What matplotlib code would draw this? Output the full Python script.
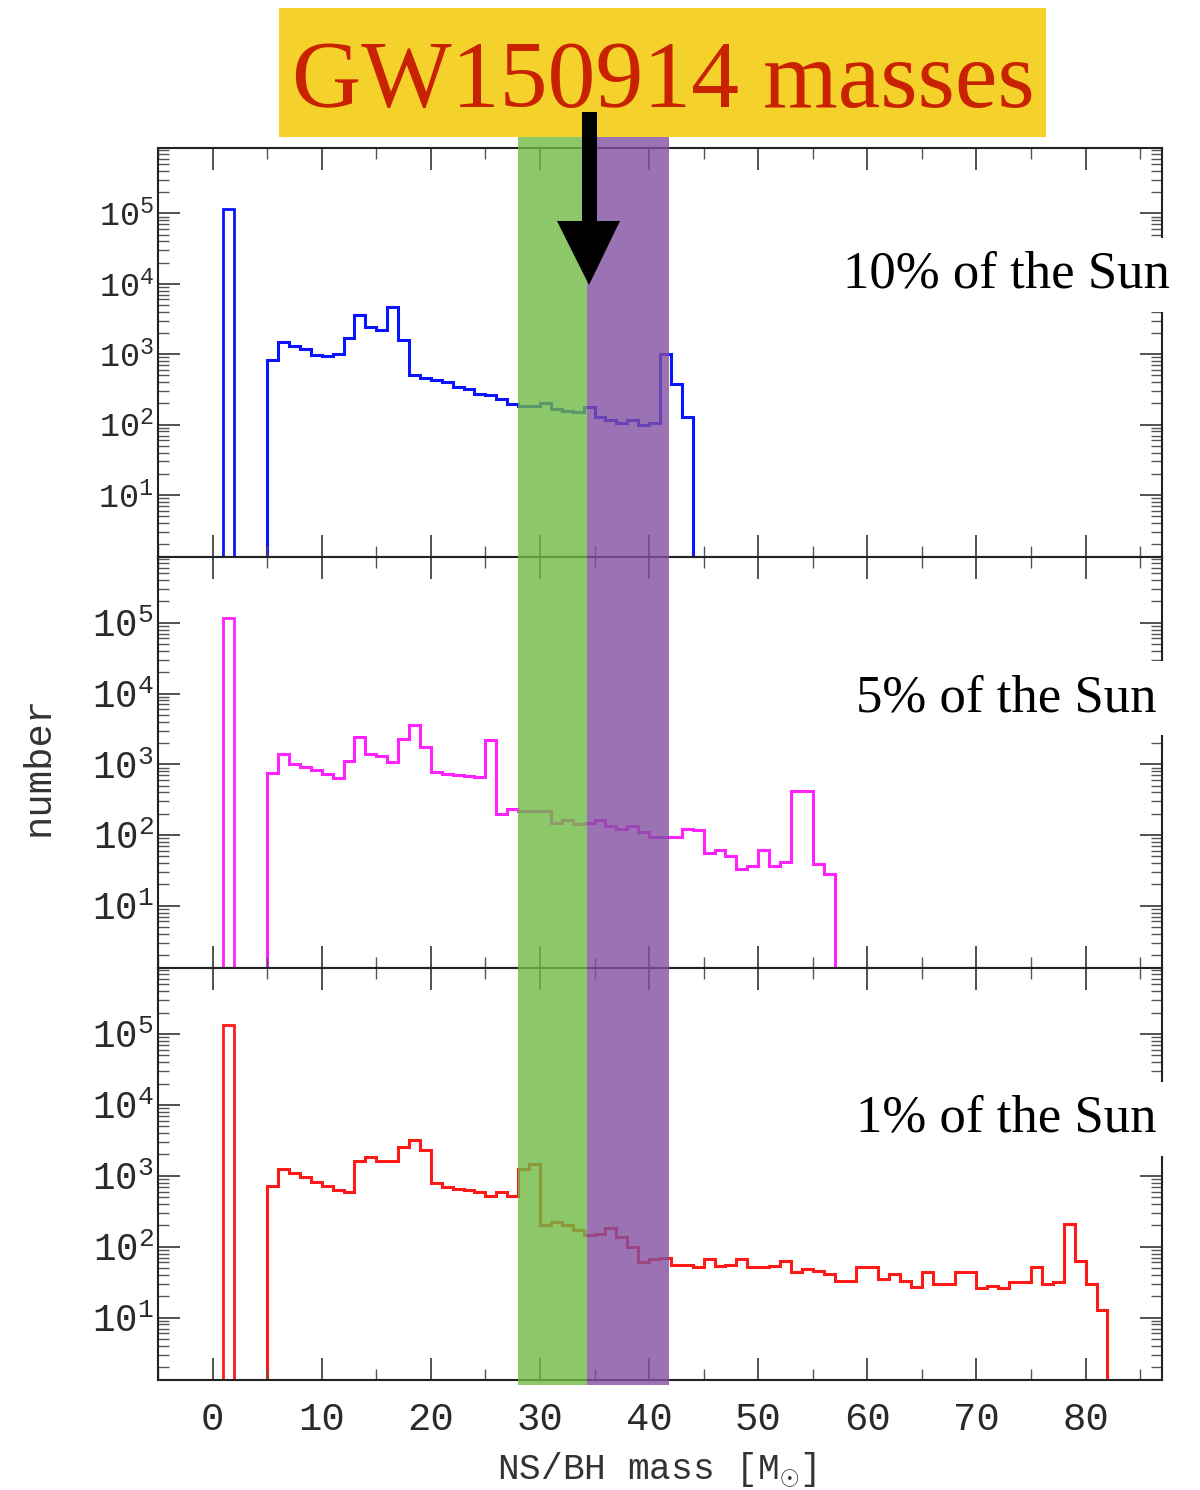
import matplotlib
matplotlib.use("Agg")
import matplotlib.pyplot as plt
import matplotlib.ticker as mticker
from matplotlib.patches import Rectangle, Polygon
from matplotlib.transforms import blended_transform_factory

plt.rcParams['mathtext.fontset'] = 'custom'
plt.rcParams['mathtext.rm'] = 'Liberation Mono'
plt.rcParams['mathtext.it'] = 'Liberation Mono:italic'

# histogram data: 1 Msun bins, first (NS) bin 1-2, BH part from 5 Msun
ns_edges = [1, 2]
ns_counts = [1.15e5, 1.15e5, 1.35e5]

bh_start = 5
bh_10 = [830, 1480, 1290, 1180, 980, 930, 1020, 1700, 3630, 2400, 2240, 4680, 1580,
         500, 460, 430, 400, 340, 325, 275, 265, 230, 195, 186, 182, 204, 166, 158,
         151, 178, 129, 115, 105, 115, 98, 105, 1000, 380, 130]
bh_5 = [760, 1380, 1000, 910, 830, 720, 645, 1100, 2400, 1410, 1320, 1070, 2290, 3630,
        1740, 780, 740, 710, 690, 660, 2190, 195, 230, 220, 220, 220, 150, 162, 145,
        150, 162, 132, 120, 132, 110, 95, 95, 93, 123, 117, 55, 62, 50, 33, 36, 62,
        37, 42, 417, 417, 39, 28]
bh_1 = [720, 1260, 1100, 950, 830, 720, 620, 600,
        1620, 1860, 1620, 1620, 2570, 3160, 2290,
        780, 690, 660, 620, 600, 525, 600, 525, 1260, 1480,
        200, 220, 200, 170, 145, 150, 182, 135, 98, 60, 68, 69,
        56, 56, 51, 68, 54, 56, 68, 51, 51, 54,
        63, 44, 48, 46, 41, 33, 33, 51, 51, 35,
        41, 33, 27, 44, 30, 30, 44, 44, 26, 28,
        26, 32, 32, 51, 30, 32, 209, 63, 30, 13]

series = [bh_10, bh_5, bh_1]
colors = ['#0a14ff', '#ff22ff', '#ff1a1a']
labels = ['10% of the Sun', '5% of the Sun', '1% of the Sun']

# GW150914 mass bands (Msun)
green_band = (28.0, 34.35)
purple_band = (34.35, 41.85)

W, H = 1200, 1490
fig = plt.figure(figsize=(12, 14.9), dpi=100)

def fx(px):
    return px / W

def fy(py):
    return 1 - py / H

panels = [(148, 557), (557, 968), (968, 1380)]
left, right = 158, 1162
axes = []
for i, (top, bot) in enumerate(panels):
    ax = fig.add_axes([fx(left), fy(bot), fx(right - left), (bot - top) / H])
    axes.append(ax)

for i, ax in enumerate(axes):
    vals = series[i]
    edges = list(range(bh_start, bh_start + len(vals) + 1))
    ax.stairs([ns_counts[i]], ns_edges, baseline=1e-2, color=colors[i], lw=2.0)
    ax.stairs(vals, edges, baseline=1e-2, color=colors[i], lw=2.2)
    ax.set_yscale('log')
    ax.set_ylim(10 ** 0.12, 10 ** 5.93)
    ax.set_xlim(-5, 87)
    ax.xaxis.set_major_locator(mticker.MultipleLocator(10))
    ax.xaxis.set_minor_locator(mticker.MultipleLocator(5))
    ax.yaxis.set_minor_locator(mticker.LogLocator(base=10, subs=range(2, 10), numticks=20))
    ax.yaxis.set_minor_formatter(mticker.NullFormatter())
    ax.set_yticks([10, 100, 1e3, 1e4, 1e5])
    ax.tick_params(which='major', direction='in', top=True, right=True,
                   length=16, width=1.2, color='#333333')
    ax.tick_params(which='minor', direction='in', top=True, right=True,
                   length=8, width=1.0, color='#555555')
    ax.tick_params(axis='y', which='major', labelsize=24 if i == 0 else 27,
                   pad=3, labelcolor='#2a2a2a')
    for sp in ax.spines.values():
        sp.set_linewidth(1.5)
        sp.set_color('#222222')
    if i < 2:
        ax.tick_params(axis='x', labelbottom=False)
    else:
        ax.tick_params(axis='x', which='major', labelsize=28, pad=16,
                       labelcolor='#2a2a2a')

for ax in axes:
    for t in ax.get_yticklabels():
        t.set_fontfamily('Liberation Mono')
for t in axes[2].get_xticklabels():
    t.set_fontfamily('Liberation Mono')

# translucent mass bands over all three panels
tr = blended_transform_factory(axes[2].transData, fig.transFigure)
for (x0, x1), c in [(green_band, '#6fba44'), (purple_band, '#8250a1')]:
    fig.add_artist(Rectangle((x0, fy(1385)), x1 - x0, fy(137) - fy(1385),
                             transform=tr, facecolor=c, edgecolor='none',
                             alpha=0.8, zorder=2))

# title box
fig.add_artist(Rectangle((fx(279), fy(137)), fx(1046 - 279), (137 - 8) / H,
                         transform=fig.transFigure, facecolor='#f4d12b',
                         edgecolor='none', zorder=3))
fig.text(fx(663), fy(107), 'GW150914 masses', ha='center', va='baseline',
         fontsize=69, family='Liberation Serif', color='#c82200', zorder=4)

# arrow
arrow_px = [(582, 112), (597, 112), (597, 221), (620, 221), (589, 285),
            (557, 221), (582, 221)]
fig.add_artist(Polygon([(fx(x), fy(y)) for x, y in arrow_px], closed=True,
                       transform=fig.transFigure, facecolor='black',
                       edgecolor='none', zorder=5))

# panel labels
label_pos = [(1170, 288), (1157, 711), (1157, 1132)]
for (px, py), lab in zip(label_pos, labels):
    fig.text(fx(px), fy(py), lab, ha='right', va='baseline', fontsize=38,
             family='Liberation Serif', color='black', zorder=4,
             bbox=dict(facecolor='white', edgecolor='none', pad=9))

fig.text(fx(657), fy(1470), r'NS/BH mass [M$_{\odot}$]', ha='center', va='center',
         fontsize=26, family='Liberation Mono', color='#333333')
fig.text(fx(39), fy(766), 'number', ha='center', va='center', rotation=90,
         fontsize=28, family='Liberation Mono', color='#333333')

plt.savefig('out.png', dpi=100)
